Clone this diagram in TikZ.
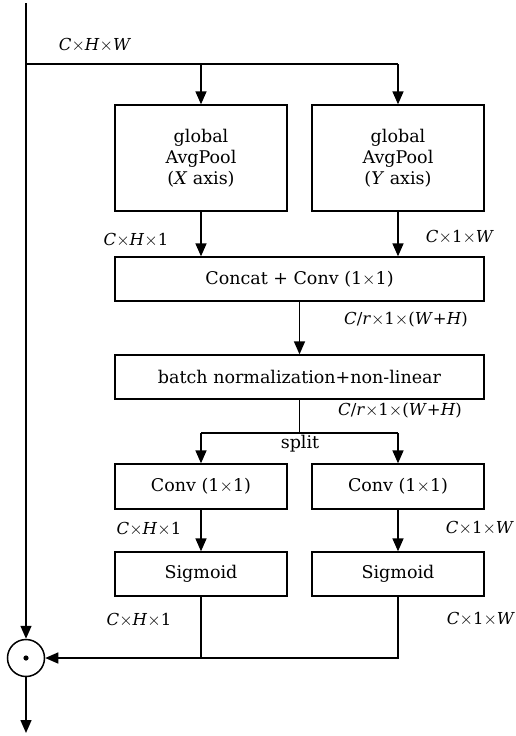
\documentclass[tikz,border=0pt]{standalone}
\usepackage{fontspec}
\setmainfont{DejaVu Serif}
\usetikzlibrary{arrows.meta}
\newcommand{\tm}{\ensuremath{\times}}
\begin{document}
\begin{tikzpicture}[x=1pt,y=-1pt,
  every node/.style={font=\fontsize{17.5}{21}\selectfont},
  blk/.style={draw, line width=1.3pt, inner sep=0pt, align=center, minimum width=172pt},
  wide/.style={blk, minimum width=369pt, minimum height=44pt},
  ln/.style={line width=1.5pt},
  arr/.style={ln, -{Triangle[length=13pt,width=11pt]}},
  lbl/.style={inner sep=0pt, font=\fontsize{16.5}{20}\selectfont}]
\useasboundingbox (0,0) rectangle (516,736);

% blocks
\node[blk, minimum height=106pt] (px) at (201,158) {global\\AvgPool\\(\textit{X} axis)};
\node[blk, minimum height=106pt] (py) at (398,158) {global\\AvgPool\\(\textit{Y} axis)};
\node[wide] (cat) at (299.5,279) {Concat + Conv (1$\times$1)};
\node[wide] (bn) at (299.5,377) {batch normalization+non-linear};
\node[blk, minimum height=45pt] (cv1) at (201,486.5) {Conv (1$\times$1)};
\node[blk, minimum height=45pt] (cv2) at (398,486.5) {Conv (1$\times$1)};
\node[blk, minimum height=44pt] (sg1) at (201,574) {Sigmoid};
\node[blk, minimum height=44pt] (sg2) at (398,574) {Sigmoid};
\node[draw, circle, line width=1.5pt, minimum size=37pt, inner sep=0pt] (mul) at (26,658) {};
\fill (mul.center) circle (2.6pt);

% junction points
\coordinate (top) at (26,3);
\coordinate (fork) at (26,64);
\coordinate (f1) at (201,64);
\coordinate (f2) at (398,64);
\coordinate (sp) at (299.5,433);
\coordinate (s1) at (201,433);
\coordinate (s2) at (398,433);
\coordinate (out) at (26,733);

% connectors
\draw[arr] (top) -- (mul.north);
\draw[ln] (fork) -- (f2);
\draw[arr] (f1) -- (px.north);
\draw[arr] (f2) -- (py.north);
\draw[arr] (px.south) -- (px.south |- cat.north);
\draw[arr] (py.south) -- (py.south |- cat.north);
\draw[arr] (cat.south) -- (bn.north);
\draw[ln] (bn.south) -- (sp);
\draw[ln] (s1) -- (s2);
\draw[arr] (s1) -- (cv1.north);
\draw[arr] (s2) -- (cv2.north);
\draw[arr] (cv1.south) -- (sg1.north);
\draw[arr] (cv2.south) -- (sg2.north);
\draw[ln] (sg1.south) -- (sg1.south |- mul.east);
\draw[arr] (sg2.south) |- (mul.east);
\draw[arr] (mul.south) -- (out);

% tensor shapes
\node[lbl] (l0) at (95,45) {\textit{C}\tm\textit{H}\tm\textit{W}};
\node[lbl] (l1) at (136,240) {\textit{C}\tm\textit{H}\tm1};
\node[lbl] (l2) at (460,237) {\textit{C}\tm1\tm\textit{W}};
\node[lbl] (l3) at (406,320) {\textit{C}/\textit{r}\tm1\tm(\textit{W}+\textit{H})};
\node[lbl] (l4) at (400,411) {\textit{C}/\textit{r}\tm1\tm(\textit{W}+\textit{H})};
\node[inner sep=0pt] (sl) at (300,444) {split};
\node[lbl] (l5) at (149,529) {\textit{C}\tm\textit{H}\tm1};
\node[lbl] (l6) at (480,528) {\textit{C}\tm1\tm\textit{W}};
\node[lbl] (l7) at (139,620) {\textit{C}\tm\textit{H}\tm1};
\node[lbl] (l8) at (481,619) {\textit{C}\tm1\tm\textit{W}};
\end{tikzpicture}
\end{document}
